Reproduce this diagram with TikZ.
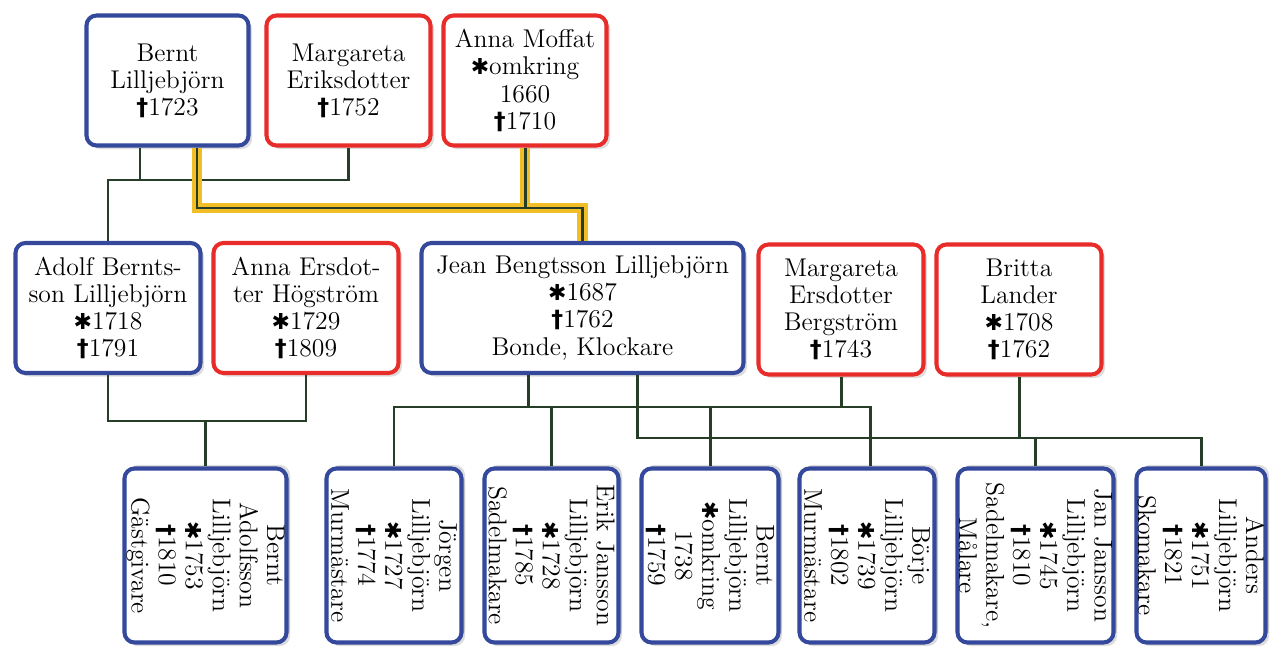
\documentclass[tikz,border=0pt]{standalone}
\usepackage{fontspec}
\usetikzlibrary{shadows,calc}
\newfontfamily\symfont{DejaVu Sans}
\newcommand\bsym{{\fontsize{12.5}{12}\symfont ✱}}
\newcommand\dsym{{\fontsize{13.5}{12}\symfont\bfseries †}}
\definecolor{boxblue}{RGB}{52,72,156}
\definecolor{boxred}{RGB}{232,44,42}
\definecolor{relgreen}{RGB}{38,62,40}
\definecolor{relgold}{RGB}{242,190,40}
\tikzset{
  person/.style={draw, line width=2.3pt, rounded corners=0.2cm, fill=white,
    align=center, inner sep=0pt, font=\fontsize{14.6}{15.4}\selectfont,
    drop shadow={shadow xshift=2pt, shadow yshift=-2pt, opacity=0.22, fill=black!60}},
  man/.style={person, draw=boxblue},
  woman/.style={person, draw=boxred},
  child/.style={man, rotate=-90,
    drop shadow={shadow xshift=2pt, shadow yshift=2pt, opacity=0.22, fill=black!60}},
  rel/.style={draw=relgreen, line width=1.7pt},
  relgoldline/.style={draw=relgold, line width=6pt},
}
\begin{document}
\begin{tikzpicture}[x=0.02cm, y=-0.02cm]
\useasboundingbox (0,0) rectangle (1271,648);
% top row
\node[man,   minimum width=162*0.02cm, minimum height=130*0.02cm] (bB) at (167.5,80.5) {Bernt\\Lilljebjörn\\\dsym1723};
\node[woman, minimum width=164*0.02cm, minimum height=130*0.02cm] (mE) at (348.5,80.5) {Margareta\\Eriksdotter\\\dsym1752};
\node[woman, minimum width=163*0.02cm, minimum height=130*0.02cm] (aM) at (525,80.5) {Anna Moffat\\\bsym omkring\\1660\\\dsym1710};
% middle row
\node[man,   minimum width=185*0.02cm, minimum height=130*0.02cm] (aB) at (108,308) {Adolf Bernts-\\son Lilljebjörn\\\bsym1718\\\dsym1791};
\node[woman, minimum width=185*0.02cm, minimum height=130*0.02cm] (aE) at (306,308) {Anna Ersdot-\\ter Högström\\\bsym1729\\\dsym1809};
\node[man,   minimum width=322*0.02cm, minimum height=130*0.02cm] (jB) at (582.5,308) {Jean Bengtsson Lilljebjörn\\\bsym1687\\\dsym1762\\Bonde, Klockare};
\node[woman, minimum width=165*0.02cm, minimum height=130*0.02cm] (mB) at (841,309.5) {Margareta\\Ersdotter\\Bergström\\\dsym1743};
\node[woman, minimum width=165*0.02cm, minimum height=130*0.02cm] (bL) at (1019,309.5) {Britta\\Lander\\\bsym1708\\\dsym1762};
% bottom row (rotated)
\node[child, minimum width=174*0.02cm, minimum height=162*0.02cm] (c1) at (205.5,555.5) {Bernt\\Adolfsson\\Lilljebjörn\\\bsym1753\\\dsym1810\\Gästgivare};
\node[child, minimum width=174*0.02cm, minimum height=135*0.02cm] (c2) at (394,555.5) {Jörgen\\Lilljebjörn\\\bsym1727\\\dsym1774\\Murmästare};
\node[child, minimum width=174*0.02cm, minimum height=134*0.02cm] (c3) at (551.5,555.5) {Erik Jansson\\Lilljebjörn\\\bsym1728\\\dsym1785\\Sadelmakare};
\node[child, minimum width=174*0.02cm, minimum height=137*0.02cm] (c4) at (710,555.5) {Bernt\\Lilljebjörn\\\bsym omkring\\1738\\\dsym1759};
\node[child, minimum width=174*0.02cm, minimum height=135*0.02cm] (c5) at (867,555.5) {Börje\\Lilljebjörn\\\bsym1739\\\dsym1802\\Murmästare};
\node[child, minimum width=174*0.02cm, minimum height=156*0.02cm] (c6) at (1035.5,555.5) {Jan Jansson\\Lilljebjörn\\\bsym1745\\\dsym1810\\Sadelmakare,\\Målare};
\node[child, minimum width=174*0.02cm, minimum height=129*0.02cm] (c7) at (1201,555.5) {Anders\\Lilljebjörn\\\bsym1751\\\dsym1821\\Skomakare};
% junction coordinates
\coordinate (f1) at (140,180);
\coordinate (f2) at (197,208);
\coordinate (f3) at (206,421);
\coordinate (f4) at (528,407);
\coordinate (f5) at (637,438);
\coordinate (f4r) at (870,407);
% Bernt + Margareta Eriksdotter -> Adolf
\draw[rel] (bB.south -| f1) -- (f1);
\draw[rel] (aB.north) |- (mE.south |- f1) -- (mE.south);
% Bernt + Anna Moffat -> Jean (highlighted)
\draw[relgoldline, line join=miter] (bB.south -| f2) -- (f2) -| (jB.north);
\draw[relgoldline] (aM.south) -- (aM.south |- f2);
\draw[rel] (bB.south -| f2) -- (f2) -| (jB.north);
\draw[rel] (aM.south) -- (aM.south |- f2);
% Adolf + Anna Ersdotter -> Bernt Adolfsson
\draw[rel] (aB.south) |- (f3) -| (aE.south);
\draw[rel] (c1.west |- f3) -- (c1.west);
% Jean + Margareta Ersdotter Bergström -> children
\draw[rel] (jB.south -| f4) -- (f4);
\draw[rel] (mB.south) -- (mB.south |- f4);
\draw[rel] (c2.west) |- (f4r) -- (c5.west -| f4r);
\draw[rel] (c3.west) -- (c3.west |- f4);
\draw[rel] (c4.west) -- (c4.west |- f4);
% Jean + Britta Lander -> children
\draw[rel] (jB.south -| f5) |- (c7.west |- f5) -- (c7.west);
\draw[rel] (bL.south) -- (bL.south |- f5);
\draw[rel] (c6.west) -- (c6.west |- f5);
\end{tikzpicture}
\end{document}
